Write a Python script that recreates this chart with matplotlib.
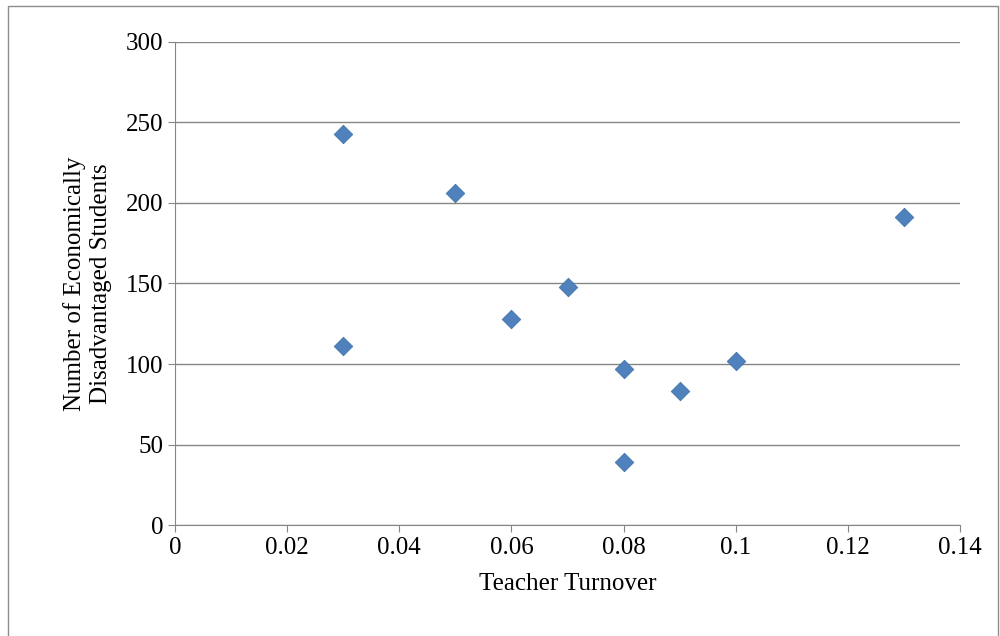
import matplotlib
matplotlib.use("Agg")
import matplotlib.pyplot as plt
from matplotlib.patches import Rectangle

turnover = [0.03, 0.03, 0.05, 0.06, 0.07, 0.08, 0.08, 0.09, 0.1, 0.13]
students = [243, 111, 206, 128, 148, 97, 39, 83, 102, 191]
x_ticks = [0, 0.02, 0.04, 0.06, 0.08, 0.1, 0.12, 0.14]
x_labels = ["0", "0.02", "0.04", "0.06", "0.08", "0.1", "0.12", "0.14"]
y_ticks = [0, 50, 100, 150, 200, 250, 300]

plt.rcParams['font.family'] = ['Liberation Serif', 'DejaVu Serif']

fig = plt.figure(figsize=(10, 6.36), dpi=100)
fig.patches.append(Rectangle((0.008, -0.01), 0.99, 1.0, transform=fig.transFigure,
                             fill=False, edgecolor='#8c8c8c', linewidth=1))
ax = fig.add_axes([0.175, 0.1745, 0.785, 0.7595])

ax.scatter(turnover, students, marker='D', s=90, color='#4F81BD',
           edgecolors='#3d6fa8', linewidths=0.5, zorder=3)

ax.set_xlim(0, 0.14)
ax.set_ylim(0, 300)
ax.set_xticks(x_ticks)
ax.set_xticklabels(x_labels)
ax.set_yticks(y_ticks)
ax.grid(axis='y', color='#868686', linewidth=1)
ax.set_axisbelow(True)
for side in ['top', 'right']:
    ax.spines[side].set_visible(False)
for side in ['left', 'bottom']:
    ax.spines[side].set_color('#868686')
ax.tick_params(axis='both', labelsize=18, color='#868686', length=5, direction='out')

ax.set_xlabel("Teacher Turnover", fontsize=18, labelpad=10)
ax.set_ylabel("Number of Economically\nDisadvantaged Students", fontsize=18, labelpad=10)

fig.savefig("out.png", dpi=100)
